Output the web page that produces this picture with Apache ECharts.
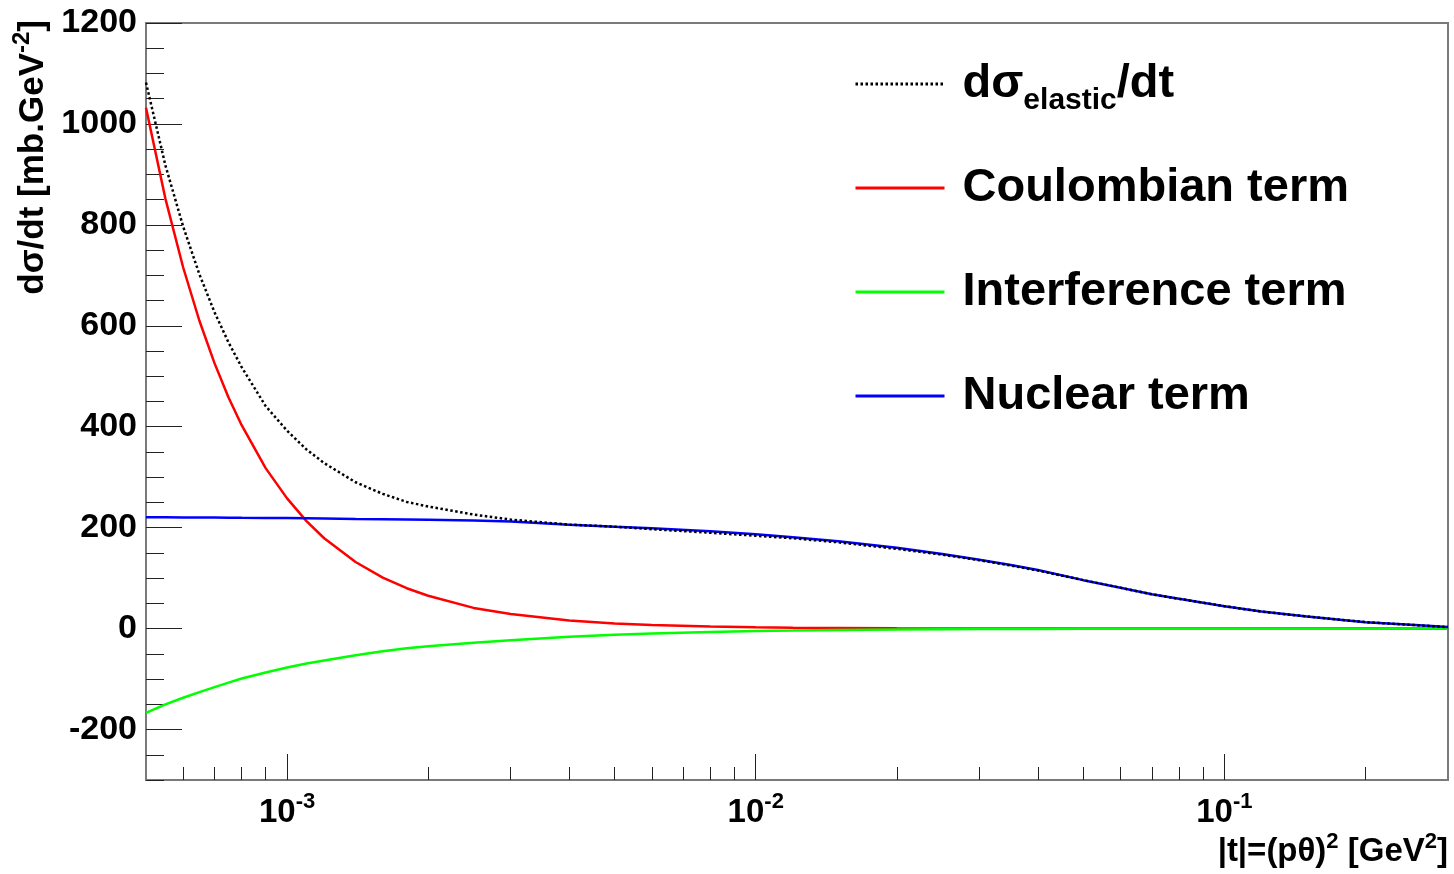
<!DOCTYPE html>
<html>
<head>
<meta charset="utf-8">
<script src="https://cdn.jsdelivr.net/npm/echarts@6/dist/echarts.min.js"></script>
<style>
html,body{margin:0;padding:0;background:#fff;}
#chart{width:1454px;height:874px;}
</style>
</head>
<body>
<div id="chart"></div>
<script>
// |t| values [GeV^2]
const tValues = [5e-4, 5.5e-4, 6e-4, 6.5e-4, 7e-4, 7.5e-4, 8e-4, 9e-4, 1e-3, 1.1e-3, 1.2e-3, 1.4e-3, 1.6e-3, 1.8e-3, 2e-3, 2.5e-3, 3e-3, 4e-3, 5e-3, 6e-3, 8e-3, 1e-2, 1.2e-2, 1.5e-2, 2e-2, 2.5e-2, 3e-2, 3.5e-2, 4e-2, 5e-2, 6e-2, 7e-2, 8e-2, 0.1, 0.12, 0.15, 0.2, 0.25, 0.3];
const elasticValues = [1082, 918, 797, 702, 627, 567, 518, 441, 392, 355, 328, 290, 267, 251, 242, 226, 216, 206, 202, 197, 190, 184, 179, 171, 158, 146.5, 135.5, 125, 115, 96, 81, 68, 59, 44.5, 33.6, 24, 12.8, 7.4, 3];
const coulombValues = [1032, 852, 716, 610, 526, 458, 403, 318, 258, 213, 179, 132, 101, 80, 65, 41, 29, 16, 10, 7, 4, 2.6, 1.8, 1.2, 0.6, 0.4, 0.3, 0.2, 0.15, 0.1, 0.07, 0.05, 0.03, 0, 0, 0, 0, 0, 0];
const interferenceValues = [-167, -150, -137, -126, -116, -107, -99, -87, -77, -69, -63, -53, -45, -39, -35, -28, -23, -16, -12, -9.5, -6.5, -4.8, -4, -2.8, -1.8, -1.3, -1, -0.85, -0.7, -0.5, -0.4, -0.3, -0.25, -0.2, -0.15, -0.1, -0.05, 0, 0];
const nuclearValues = [220.5, 220.5, 220.3, 220.2, 220, 219.8, 219.6, 219.3, 219, 218.5, 218, 217, 216.5, 216, 215.5, 214, 212, 206, 202, 199, 193, 187, 181, 173, 160, 148, 136.5, 126, 116, 96, 81, 68, 59, 44.5, 33.8, 24, 12.8, 7.4, 3];

const seriesNames = ['elastic', 'Coulombian term', 'Interference term', 'Nuclear term'];

// axis ticks
const xMajorTicks = [0.001, 0.01, 0.1];
const xMajorExponents = ['-3', '-2', '-1'];
const xMinorTicks = [6e-4, 7e-4, 8e-4, 9e-4, 2e-3, 3e-3, 4e-3, 5e-3, 6e-3, 7e-3, 8e-3, 9e-3, 2e-2, 3e-2, 4e-2, 5e-2, 6e-2, 7e-2, 8e-2, 9e-2, 0.2];
const yMajorTicks = [-200, 0, 200, 400, 600, 800, 1000, 1200];
const yMinorTicks = [-300, -250, -150, -100, -50, 50, 100, 150, 250, 300, 350, 450, 500, 550, 650, 700, 750, 850, 900, 950, 1050, 1100, 1150];

const FONT = 'Liberation Sans, Arial, sans-serif';
const TICK_COLOR = '#222';

function pairs(vals) { return tValues.map((t, i) => [t, vals[i]]); }

const chart = echarts.init(document.getElementById('chart'), null, {renderer: 'canvas'});

const option = {
  animation: false,
  backgroundColor: '#fff',
  grid: {
    left: 146, top: 23, width: 1302, height: 757,
    show: true, borderColor: '#7a7a7a', borderWidth: 2, backgroundColor: 'transparent',
    containLabel: false, outerBoundsMode: 'none'
  },
  xAxis: [
    {
      type: 'log', logBase: 10, min: 5e-4, max: 0.3, position: 'bottom',
      axisLine: {show: false, onZero: false}, splitLine: {show: false},
      axisTick: {show: true, inside: true, length: 26, customValues: xMajorTicks, lineStyle: {color: TICK_COLOR, width: 1}},
      axisLabel: {
        customValues: xMajorTicks, margin: 11,
        formatter: function (v) {
          let idx = 0, best = Infinity;
          xMajorTicks.forEach((t, i) => { const d = Math.abs(Math.log10(v) - Math.log10(t)); if (d < best) { best = d; idx = i; } });
          return '{b|10}{s|' + xMajorExponents[idx] + '}';
        },
        rich: {
          b: {fontSize: 33, fontWeight: 'bold', fontFamily: FONT, color: '#000', lineHeight: 44},
          s: {fontSize: 22, fontWeight: 'bold', fontFamily: FONT, color: '#000', lineHeight: 22, verticalAlign: 'top'}
        }
      }
    },
    {
      type: 'log', logBase: 10, min: 5e-4, max: 0.3, position: 'bottom',
      axisLine: {show: false, onZero: false}, splitLine: {show: false},
      axisTick: {show: true, inside: true, length: 13, customValues: xMinorTicks, lineStyle: {color: TICK_COLOR, width: 1}},
      axisLabel: {show: false}
    }
  ],
  yAxis: [
    {
      type: 'value', min: -300, max: 1200, position: 'left',
      axisLine: {show: false, onZero: false}, splitLine: {show: false},
      axisTick: {show: true, inside: true, length: 36, customValues: yMajorTicks, lineStyle: {color: TICK_COLOR, width: 1}},
      axisLabel: {customValues: yMajorTicks, margin: 9, fontSize: 34, fontWeight: 'bold', fontFamily: FONT, color: '#000',
        formatter: function (v) { return String(Math.round(v)); }}
    },
    {
      type: 'value', min: -300, max: 1200, position: 'left',
      axisLine: {show: false, onZero: false}, splitLine: {show: false},
      axisTick: {show: true, inside: true, length: 18, customValues: yMinorTicks, lineStyle: {color: TICK_COLOR, width: 1}},
      axisLabel: {show: false}
    }
  ],
  legend: {
    orient: 'vertical', left: 854, top: 52, padding: 0,
    itemWidth: 89, itemHeight: 14, itemGap: 40, itemTextGap: 18,
    data: seriesNames,
    itemStyle: {opacity: 0},
    lineStyle: {width: 3},
    formatter: function (name) {
      if (name === 'elastic') return '{g|}{a|dσ}{s|elastic}{a|/dt}';
      return '{g|}{a|' + name + '}';
    },
    textStyle: {
      fontSize: 47, fontWeight: 'bold', fontFamily: FONT, color: '#000', lineHeight: 64,
      rich: {
        g: {width: 13, lineHeight: 64},
        a: {fontSize: 47, fontWeight: 'bold', fontFamily: FONT, color: '#000', lineHeight: 64},
        s: {fontSize: 30, fontWeight: 'bold', fontFamily: FONT, color: '#000', lineHeight: 28, verticalAlign: 'bottom'}
      }
    }
  },
  graphic: [
    {
      type: 'text', x: 33, y: 20, rotation: Math.PI / 2,
      style: {
        text: '{m|dσ/dt [mb.GeV}{p|-2}{m|]}',
        align: 'right', textAlign: 'right', verticalAlign: 'middle', textVerticalAlign: 'middle',
        rich: {
          m: {fontSize: 35, fontWeight: 'bold', fontFamily: FONT, fill: '#000', color: '#000', lineHeight: 46},
          p: {fontSize: 24, fontWeight: 'bold', fontFamily: FONT, fill: '#000', color: '#000', lineHeight: 24, verticalAlign: 'top'}
        }
      }
    },
    {
      type: 'text', x: 1448, y: 852,
      style: {
        text: '{m|\u007Ct\u007C=(pθ)}{p|2}{m| [GeV}{p|2}{m|]}',
        align: 'right', textAlign: 'right', verticalAlign: 'middle', textVerticalAlign: 'middle',
        rich: {
          m: {fontSize: 33, fontWeight: 'bold', fontFamily: FONT, fill: '#000', color: '#000', lineHeight: 42},
          p: {fontSize: 22, fontWeight: 'bold', fontFamily: FONT, fill: '#000', color: '#000', lineHeight: 22, verticalAlign: 'top'}
        }
      }
    }
  ],
  series: [
    {
      name: 'Coulombian term', type: 'line', data: pairs(coulombValues),
      xAxisIndex: 0, yAxisIndex: 0, symbol: 'none', showSymbol: false, smooth: false,
      lineStyle: {color: '#ff0000', width: 2.5}, itemStyle: {color: '#ff0000'}
    },
    {
      name: 'Interference term', type: 'line', data: pairs(interferenceValues),
      xAxisIndex: 0, yAxisIndex: 0, symbol: 'none', showSymbol: false, smooth: false,
      lineStyle: {color: '#00ff00', width: 2.5}, itemStyle: {color: '#00ff00'}
    },
    {
      name: 'Nuclear term', type: 'line', data: pairs(nuclearValues),
      xAxisIndex: 0, yAxisIndex: 0, symbol: 'none', showSymbol: false, smooth: false,
      lineStyle: {color: '#0000ff', width: 2.5}, itemStyle: {color: '#0000ff'}
    },
    {
      name: 'elastic', type: 'line', data: pairs(elasticValues),
      xAxisIndex: 0, yAxisIndex: 0, symbol: 'none', showSymbol: false, smooth: false,
      lineStyle: {color: '#000000', width: 2.5, type: [2.5, 2.5]}, itemStyle: {color: '#000000'}
    }
  ]
};
chart.setOption(option);
</script>
</body>
</html>
